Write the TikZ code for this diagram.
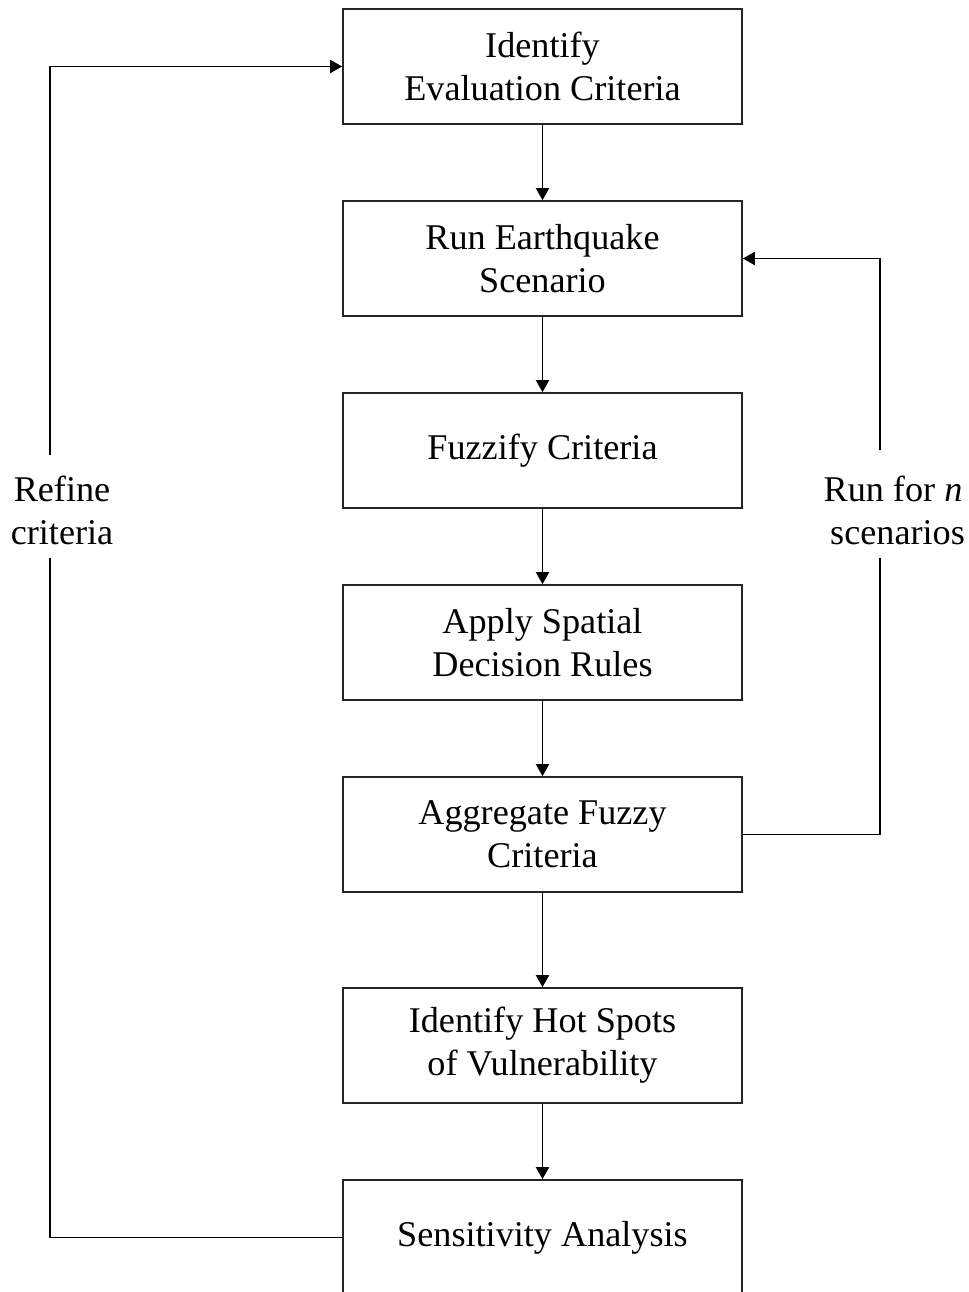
\documentclass[tikz,border=0pt]{standalone}
\usepackage{fontspec}
\setmainfont{Liberation Serif}
\usetikzlibrary{arrows.meta}
\tikzset{
  stepbox/.style={draw=black!85,line width=1pt,minimum width=7.98cm,minimum height=2.3cm,align=center,inner sep=0pt},
  lbl/.style={align=center,inner sep=0pt},
  link/.style={line width=1.1pt,-{Triangle[length=2.4mm,width=2.6mm]}},
  wire/.style={line width=1.1pt}
}
\begin{document}
\begin{tikzpicture}[x=0.02cm,y=-0.02cm,every node/.style={font=\fontsize{20.6}{24.4}\selectfont}]
\clip (0,0) rectangle (968,1292);
\node[stepbox] (ident) at (542.5,66.5) {Identify\\Evaluation Criteria};
\node[stepbox] (run) at (542.5,258.5) {Run Earthquake\\Scenario};
\node[stepbox] (fuzz) at (542.5,450.5) {Fuzzify Criteria};
\node[stepbox] (rules) at (542.5,642.5) {Apply Spatial\\Decision Rules};
\node[stepbox] (aggr) at (542.5,834.5) {Aggregate Fuzzy\\Criteria};
\node[stepbox] (hot) at (542.5,1045.5) {Identify Hot Spots\\of Vulnerability};
\node[stepbox] (sens) at (542.5,1237.5) {Sensitivity Analysis};
\node[lbl] (refine) at (62,510) {Refine\\criteria};
\node[lbl] (nrun) at (893,510) {Run for \textit{n}\\\ scenarios};
\coordinate (lt) at (50,455);
\coordinate (lb) at (50,558);
\coordinate (rt) at (880,450);
\coordinate (rb) at (880,558);
\draw[link] (ident) -- (run);
\draw[link] (run) -- (fuzz);
\draw[link] (fuzz) -- (rules);
\draw[link] (rules) -- (aggr);
\draw[link] (aggr) -- (hot);
\draw[link] (hot) -- (sens);
% feedback loops
\draw[wire] (sens.west) -| (lb);
\draw[link] (lt) |- (ident.west);
\draw[wire] (aggr.east) -| (rb);
\draw[link] (rt) |- (run.east);
\end{tikzpicture}
\end{document}
